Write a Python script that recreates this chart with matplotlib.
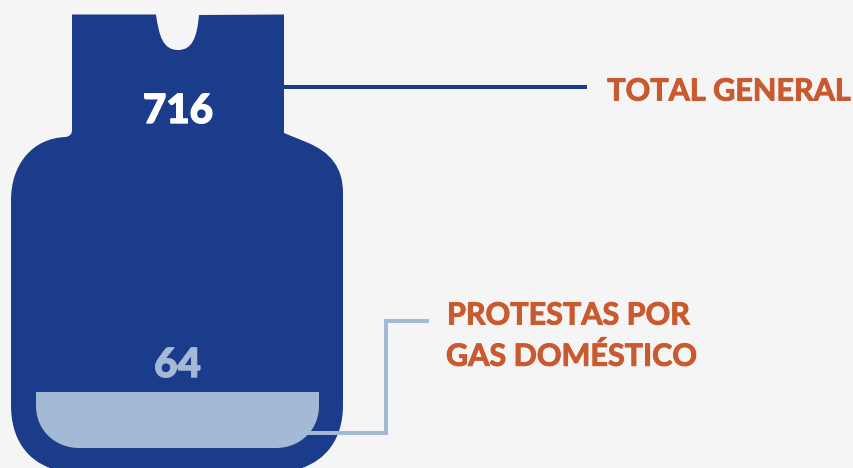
import matplotlib
matplotlib.use('Agg')
import matplotlib.pyplot as plt
import matplotlib.patheffects as pe
from matplotlib.path import Path
from matplotlib.patches import PathPatch

total_value = '716'
gas_value = '64'
total_label = 'TOTAL GENERAL'
gas_label = ['PROTESTAS POR', 'GAS DOMÉSTICO']

blue = '#1B3B8B'
light = '#A3B9D6'
orange = '#C95A30'
bg = '#F5F5F5'

fig = plt.figure(figsize=(8.54, 4.68), dpi=100, facecolor=bg)
ax = fig.add_axes([0, 0, 1, 1])
ax.set_xlim(0, 854)
ax.set_ylim(468, 0)
ax.axis('off')

# bottle outline, in pixels
M, L, C = Path.MOVETO, Path.LINETO, Path.CURVE4
bottle = [
    (M, (72, 14.5)), (L, (156, 14.5)),
    (C, (159, 36)), (C, (163, 50)), (C, (178, 50)),
    (C, (192, 50)), (C, (197, 38)), (C, (199, 15)),
    (L, (284, 14.5)), (L, (284, 133)),
    (L, (306, 142)),
    (C, (331, 152)), (C, (343, 168)), (C, (343, 193)),
    (L, (343, 405)),
    (C, (343, 440)), (C, (325, 460)), (C, (302, 468)),
    (L, (50, 468)),
    (C, (28, 460)), (C, (11, 440)), (C, (11, 405)),
    (L, (11, 200)),
    (C, (11, 165)), (C, (32, 138)), (C, (66, 137)),
    (C, (70, 136)), (C, (72, 134)), (C, (72, 130)),
    (L, (72, 14.5)),
]
ax.add_patch(PathPatch(Path([p for c, p in bottle], [c for c, p in bottle]), fc=blue, ec='none', zorder=2))

liquid = [
    (M, (36, 392)), (L, (319, 392)), (L, (319, 406)),
    (C, (319, 430)), (C, (300, 448)), (C, (276, 448)),
    (L, (79, 448)),
    (C, (55, 448)), (C, (36, 430)), (C, (36, 406)),
    (L, (36, 392)),
]
ax.add_patch(PathPatch(Path([p for c, p in liquid], [c for c, p in liquid]), fc=light, ec='none', zorder=3))

ax.plot([284, 587], [87, 87], color=blue, lw=2.9, solid_capstyle='butt', zorder=1)
ax.plot([307, 386, 386, 429], [432.5, 432.5, 320.5, 320.5], color=light, lw=2.9,
        solid_capstyle='butt', solid_joinstyle='miter', zorder=4)

font = 'Lato'
heavy = [pe.withStroke(linewidth=0.7, foreground=orange)]
ax.text(178, 108, total_value, color='white', fontsize=29, fontweight='black', family=font,
        ha='center', va='center_baseline', zorder=5,
        path_effects=[pe.withStroke(linewidth=1, foreground='white')])
ax.text(177.5, 362, gas_value, color=light, fontsize=29, fontweight='black', family=font,
        ha='center', va='center_baseline', zorder=5,
        path_effects=[pe.withStroke(linewidth=1, foreground=light)])
ax.text(729, 89, total_label, color=orange, fontsize=22, fontweight='bold', family=font,
        ha='center', va='center_baseline', zorder=5, path_effects=heavy)
ax.text(447, 313, gas_label[0], color=orange, fontsize=22, fontweight='bold', family=font,
        ha='left', va='center_baseline', zorder=5, path_effects=heavy)
ax.text(446, 354, gas_label[1], color=orange, fontsize=22, fontweight='bold', family=font,
        ha='left', va='center_baseline', zorder=5, path_effects=heavy)

plt.savefig('out.png', dpi=100, facecolor=bg)
